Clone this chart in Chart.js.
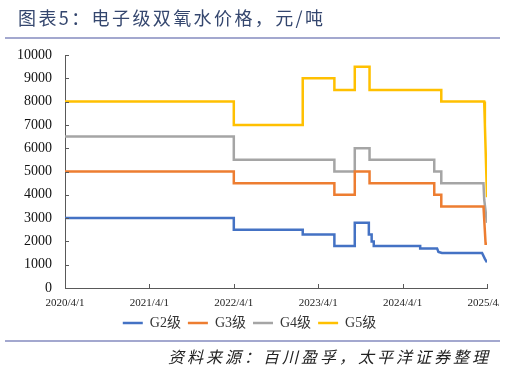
<!DOCTYPE html>
<html>
<head>
<meta charset="utf-8">
<script src="https://cdn.jsdelivr.net/npm/chart.js@4.4.1/dist/chart.umd.min.js"></script>
<style>
  html, body { margin: 0; padding: 0; background: #fff; }
  body { width: 507px; height: 368px; overflow: hidden; position: relative; }
  #title {
    position: absolute; left: 18px; top: 4px;
    font: 18px "Noto Sans CJK SC", sans-serif; letter-spacing: 2.4px;
    color: #34466e; white-space: nowrap;
  }
  .rule { position: absolute; left: 5px; width: 495px; height: 2px; background: #a3a8cf; }
  #source {
    position: absolute; right: 16px; top: 344px;
    font: italic 16px "Noto Sans CJK SC", sans-serif; letter-spacing: 3px;
    color: #222; white-space: nowrap;
  }
  #wrap { position: absolute; left: 0; top: 0; width: 520px; height: 368px; }
  /* the source image is cropped just past the last x label */
  #crop { position: absolute; left: 499px; top: 290px; width: 8px; height: 20px; background: #fff; }
</style>
</head>
<body>
<div id="wrap"><canvas id="chart"></canvas></div>
<div id="crop"></div>
<div id="title">图表5：电子级双氧水价格，元/吨</div>
<div class="rule" style="top:37px"></div>
<div class="rule" style="top:340px"></div>
<div id="source">资料来源：百川盈孚，太平洋证券整理</div>
<script>
// x = months since 2020/4/1
const xTickMonths = [0, 12, 24, 36, 48, 60]
const xTickLabels = ['2020/4/1', '2021/4/1', '2022/4/1', '2023/4/1', '2024/4/1', '2025/4/1']

const g2Months = [0, 24, 24, 33.8, 33.8, 38.3, 38.3, 41.2, 41.2, 43.2, 43.2, 43.6, 43.6, 43.9, 43.9, 50.5, 50.5, 52.9, 53.1, 53.6, 59.3, 59.7, 60]
const g2Prices = [3000, 3000, 2500, 2500, 2300, 2300, 1800, 1800, 2800, 2800, 2300, 2300, 2000, 2000, 1800, 1800, 1700, 1700, 1550, 1500, 1500, 1250, 1100]

const g3Months = [0, 24, 24, 38.3, 38.3, 41.2, 41.2, 43.3, 43.3, 52.5, 52.5, 53.5, 53.5, 59.5, 59.8, 60]
const g3Prices = [5000, 5000, 4500, 4500, 4000, 4000, 5000, 5000, 4500, 4500, 4000, 4000, 3500, 3500, 1900, 1900]

const g4Months = [0, 24, 24, 38.3, 38.3, 41.2, 41.2, 43.3, 43.3, 52.5, 52.5, 53.5, 53.5, 59.5, 59.6, 60]
const g4Prices = [6500, 6500, 5500, 5500, 5000, 5000, 6000, 6000, 5500, 5500, 5000, 5000, 4500, 4500, 3800, 2800]

const g5Months = [0, 24, 24, 33.8, 33.8, 38.3, 38.3, 41.2, 41.2, 43.3, 43.3, 53.5, 53.5, 59.6, 59.7, 60]
const g5Prices = [8000, 8000, 7000, 7000, 9000, 9000, 8500, 8500, 9500, 9500, 8500, 8500, 8000, 8000, 7000, 3900]

function pts (xs, ys) {
  return xs.map((x, i) => ({ x: x, y: ys[i] }))
}

function series (label, xs, ys, color) {
  return {
    label: label,
    data: pts(xs, ys),
    borderColor: color,
    backgroundColor: color,
    borderWidth: 2.5,
    pointRadius: 0,
    pointStyle: 'line',
    tension: 0
  }
}

// short tick marks pointing into the plot
const innerTicks = {
  id: 'innerTicks',
  afterDraw (chart) {
    const { ctx, chartArea, scales } = chart
    ctx.save()
    ctx.strokeStyle = '#595959'
    ctx.lineWidth = 1
    ctx.beginPath()
    scales.y.ticks.forEach((t) => {
      const y = Math.round(scales.y.getPixelForValue(t.value)) + 0.5
      ctx.moveTo(chartArea.left, y)
      ctx.lineTo(chartArea.left + 4, y)
    })
    xTickMonths.forEach((m) => {
      const x = Math.round(scales.x.getPixelForValue(m)) + 0.5
      ctx.moveTo(x, chartArea.bottom)
      ctx.lineTo(x, chartArea.bottom - 4)
    })
    ctx.stroke()
    ctx.restore()
  }
}

const canvas = document.getElementById('chart')
const chart = new Chart(canvas.getContext('2d'), {
  type: 'line',
  data: {
    datasets: [
      series('G2级', g2Months, g2Prices, '#4472c4'),
      series('G3级', g3Months, g3Prices, '#ed7d31'),
      series('G4级', g4Months, g4Prices, '#a5a5a5'),
      series('G5级', g5Months, g5Prices, '#ffc000')
    ]
  },
  options: {
    responsive: true,
    maintainAspectRatio: false,
    animation: false,
    layout: { padding: { top: 55, right: 33, bottom: 28, left: 12 } },
    scales: {
      x: {
        type: 'linear',
        min: 0,
        max: 60,
        grid: { display: false, drawTicks: false },
        border: { display: true, color: '#595959', width: 1 },
        afterBuildTicks: (scale) => { scale.ticks = xTickMonths.map((v) => ({ value: v })) },
        afterFit: (scale) => { scale.height = 21 },
        ticks: {
          autoSkip: false,
          maxRotation: 0,
          padding: 9,
          color: '#222',
          font: { family: 'Liberation Serif', size: 11 },
          callback: function (value) {
            const i = xTickMonths.indexOf(value)
            return i >= 0 ? xTickLabels[i] : ''
          }
        }
      },
      y: {
        min: 0,
        max: 10000,
        grid: { display: false, drawTicks: false },
        border: { display: true, color: '#595959', width: 1 },
        afterFit: (scale) => { scale.width = 53 },
        ticks: {
          stepSize: 1000,
          padding: 13,
          color: '#111',
          font: { family: 'Liberation Serif', size: 14 },
          callback: (value) => String(value)
        }
      }
    },
    plugins: {
      legend: {
        display: true,
        position: 'bottom',
        labels: {
          usePointStyle: true,
          pointStyleWidth: 20,
          padding: 7,
          color: '#333',
          font: { family: "'Liberation Serif', 'Noto Sans CJK SC'", size: 14 }
        }
      },
      tooltip: { enabled: false }
    }
  },
  plugins: [innerTicks]
})
</script>
</body>
</html>
